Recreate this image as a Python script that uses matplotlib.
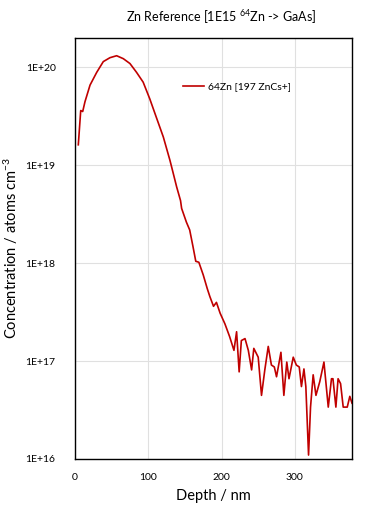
import numpy as np
import matplotlib
matplotlib.use("Agg")
import matplotlib.pyplot as plt
from matplotlib.ticker import FixedLocator, NullLocator

plt.rcParams['font.family'] = ['Lato', 'DejaVu Sans']
plt.rcParams['mathtext.fontset'] = 'custom'
plt.rcParams['mathtext.rm'] = 'Lato'
plt.rcParams['mathtext.it'] = 'Lato:italic'
plt.rcParams['mathtext.bf'] = 'Lato:bold'

# %% Data (depth in nm, log10 of concentration)
depth = [4.5, 7.8, 10.5, 13.6, 20.5, 29.6, 38.6, 47.7, 56.8, 65.9, 75, 84, 93,
         102, 111, 120.5, 129.6, 134, 138.7, 144, 145.5, 152, 156.5, 161, 164.8,
         169, 175, 180.5, 184, 189, 193, 198, 204.6, 211, 216.9, 220.5, 224, 227,
         232, 236.5, 241, 244, 250, 254.5, 259, 263.7, 268, 272, 275, 281, 285,
         289, 292, 297.8, 302, 306, 309, 312.4, 315, 318.7, 321.4, 325, 328.8,
         334, 339.7, 345.6, 350, 352, 356, 359, 362.4, 366, 371.5, 375, 378]
log_conc = [19.21, 19.56, 19.55, 19.65, 19.82, 19.95, 20.06, 20.10, 20.12, 20.09,
            20.04, 19.95, 19.85, 19.68, 19.49, 19.29, 19.05, 18.92, 18.78, 18.64,
            18.56, 18.42, 18.34, 18.17, 18.02, 18.01, 17.88, 17.74, 17.66, 17.56,
            17.60, 17.49, 17.38, 17.25, 17.11, 17.30, 16.89, 17.21, 17.23, 17.11,
            16.91, 17.13, 17.04, 16.65, 16.91, 17.15, 16.96, 16.94, 16.84, 17.09,
            16.65, 16.99, 16.82, 17.04, 16.96, 16.94, 16.74, 16.92, 16.74, 16.04,
            16.53, 16.86, 16.65, 16.79, 16.99, 16.53, 16.82, 16.82, 16.53, 16.82,
            16.77, 16.53, 16.53, 16.64, 16.57]
conc = np.power(10, np.array(log_conc))

y_ticks = [1e16, 1e17, 1e18, 1e19, 1e20]
y_tick_labels = ["1E+16", "1E+17", "1E+18", "1E+19", "1E+20"]
x_ticks = [0, 100, 200, 300]

# %% Plot
fig = plt.figure(figsize=(3.65, 5.13), dpi=100)
ax = fig.add_axes([0.2055, 0.1053, 0.7589, 0.8206])

ax.set_yscale('log')
ax.plot(depth, conc, color='#C00000', lw=1.2, label="64Zn [197 ZnCs+]")

ax.set_xlim(0, 378)
ax.set_ylim(1e16, 2e20)
ax.yaxis.set_major_locator(FixedLocator(y_ticks))
ax.yaxis.set_minor_locator(NullLocator())
ax.set_yticklabels(y_tick_labels)
ax.set_xticks(x_ticks)

ax.grid(True, color='#e0e0e0', lw=0.8)
ax.set_axisbelow(True)
ax.tick_params(length=0, labelsize=7.5, pad=14)
ax.tick_params(axis='x', pad=10)
for s in ax.spines.values():
    s.set_linewidth(1.0)
    s.set_color('black')

ax.set_xlabel("Depth / nm", fontsize=10.5, labelpad=5)
ax.set_ylabel(r"Concentration / atoms cm$^{\mathregular{-3}}$", fontsize=10.5, labelpad=4)

fig.text(221/365, 1 - 17/513, r"Zn Reference [1E15 $^{\mathregular{64}}$Zn -> GaAs]",
         ha='center', va='center', fontsize=9)

ax.legend(loc='center left', bbox_to_anchor=(0.39, 0.884), frameon=False,
          fontsize=7.5, handlelength=2.0, handletextpad=0.4,
          borderpad=0, borderaxespad=0)

plt.savefig('out.png', dpi=100)
